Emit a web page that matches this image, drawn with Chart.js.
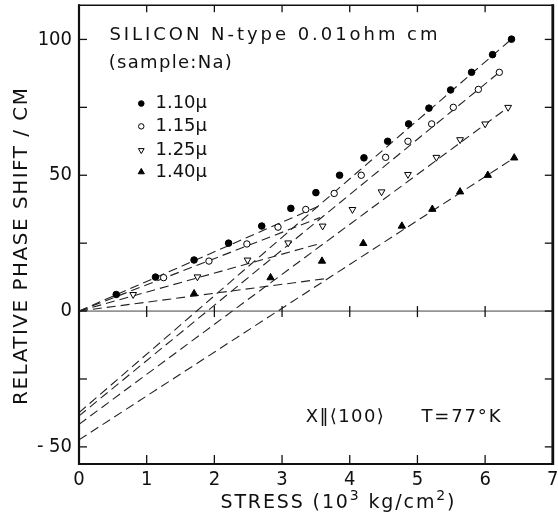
<!DOCTYPE html>
<html><head><meta charset="utf-8">
<script src="https://cdn.jsdelivr.net/npm/chart.js@4/dist/chart.umd.min.js"></script>
<style>html,body{margin:0;padding:0;background:#fff}canvas{display:block}</style>
</head><body>
<canvas id="c" width="558" height="518"></canvas>
<script>
// ---- axis ticks ----
const stressTicks = [0, 1, 2, 3, 4, 5, 6, 7];
const shiftTicks = [-50, 0, 50, 100];
const shiftTickLabels = ['- 50', '0', '50', '100'];
const shiftMinorTicks = [-25, 25, 75];

// ---- series (stress in 10^3 kg/cm^2, relative phase shift / cm) ----
const wavelengths = ['1.10', '1.15', '1.25', '1.40'];
const stress110 = [0.55, 1.13, 1.70, 2.21, 2.70, 3.13, 3.50, 3.85, 4.21, 4.56, 4.87, 5.17, 5.49, 5.80, 6.11, 6.39];
const shift110  = [6.1, 12.5, 18.8, 25.0, 31.3, 37.8, 43.6, 50.0, 56.4, 62.5, 68.9, 74.7, 81.4, 87.9, 94.4, 100.1];
const stress115 = [1.25, 1.92, 2.48, 2.94, 3.35, 3.77, 4.17, 4.53, 4.86, 5.21, 5.53, 5.90, 6.21];
const shift115  = [12.3, 18.4, 24.7, 30.9, 37.4, 43.3, 50.0, 56.6, 62.5, 68.9, 75.0, 81.6, 87.9];
const stress125 = [0.80, 1.75, 2.49, 3.09, 3.60, 4.04, 4.47, 4.86, 5.28, 5.63, 6.00, 6.34];
const shift125  = [6.1, 12.6, 18.8, 25.1, 31.3, 37.4, 43.9, 50.3, 56.6, 63.1, 68.9, 75.0];
const stress140 = [1.70, 2.83, 3.59, 4.20, 4.77, 5.22, 5.63, 6.04, 6.43];
const shift140  = [6.4, 12.3, 18.4, 24.9, 31.3, 37.5, 43.9, 50.0, 56.4];

// ---- dashed lines ----
// high-stress straight line, extended back to zero stress
const fitStartShift = [-37.4, -38.6, -41.7, -47.4];
const fitEndStress  = [6.39, 6.21, 6.34, 6.43];
const fitEndShift   = [100.1, 87.9, 75.0, 56.4];
// low-stress line from the origin to the knee
const kneeStress = [3.53, 3.56, 3.58, 3.66];
const kneeShift  = [38.5, 34.4, 25.0, 12.0];

const FONT = '"DejaVu Sans Condensed", "Liberation Sans Narrow", "DejaVu Sans", sans-serif';
const TFONT = '"DejaVu Sans", sans-serif';
const INK = '#111';

const xs_ = [stress110, stress115, stress125, stress140];
const ys_ = [shift110, shift115, shift125, shift140];
const markers = [
  {pointStyle: 'circle', radius: 3.3, rotation: 0, bg: '#000', bw: 1},
  {pointStyle: 'circle', radius: 3.2, rotation: 0, bg: '#fff', bw: 1},
  {pointStyle: 'triangle', radius: 3.9, rotation: 180, bg: '#fff', bw: 1},
  {pointStyle: 'triangle', radius: 4.2, rotation: 0, bg: '#000', bw: 1}
];

const datasets = [];
for (let i = 0; i < 4; i++) {
  datasets.push({
    label: wavelengths[i] + ' μ',
    data: xs_[i].map((x, k) => ({x, y: ys_[i][k]})),
    showLine: false,
    pointStyle: markers[i].pointStyle,
    pointRadius: markers[i].radius,
    pointRotation: markers[i].rotation,
    pointBackgroundColor: markers[i].bg,
    pointBorderColor: '#000',
    pointBorderWidth: markers[i].bw
  });
}
for (let i = 0; i < 4; i++) {
  datasets.push({
    data: [{x: 0, y: fitStartShift[i]}, {x: fitEndStress[i], y: fitEndShift[i]}],
    showLine: true, pointRadius: 0, borderColor: '#222', borderWidth: 1.1, borderDash: [9, 5]
  });
  datasets.push({
    data: [{x: 0, y: 0}, {x: kneeStress[i], y: kneeShift[i]}],
    showLine: true, pointRadius: 0, borderColor: '#222', borderWidth: 1.1, borderDash: [9, 5]
  });
}

function seg(ctx, x1, y1, x2, y2) { ctx.beginPath(); ctx.moveTo(x1, y1); ctx.lineTo(x2, y2); ctx.stroke(); }
function txt(ctx, s, x, y, size, align, spacing, fam) {
  ctx.font = size + 'px ' + (fam || TFONT);
  ctx.letterSpacing = (spacing || 0) + 'px';
  ctx.textAlign = align || 'left';
  ctx.textBaseline = 'middle';
  ctx.fillText(s, x, y);
}
// draw text starting at x with its letters spread to a given width
function spanTxt(ctx, s, x, y, size, width, fam) {
  ctx.font = size + 'px ' + (fam || TFONT);
  ctx.letterSpacing = '0px';
  const w = ctx.measureText(s).width;
  const sp = Math.max(0, (width - w) / (s.length - 1));
  txt(ctx, s, x, y, size, 'left', sp, fam);
}

const decor = {
  id: 'decor',
  beforeDatasetsDraw(chart) {
    const {ctx, chartArea: a, scales: {x: xs, y: ys}} = chart;
    ctx.save();
    const y0 = ys.getPixelForValue(0);
    ctx.strokeStyle = '#444'; ctx.lineWidth = 1;
    seg(ctx, a.left, y0, a.right, y0);
    ctx.strokeStyle = INK; ctx.lineWidth = 1.3;
    stressTicks.slice(1, -1).forEach(v => {
      const px = xs.getPixelForValue(v);
      seg(ctx, px, a.bottom, px, a.bottom - 9);
      seg(ctx, px, a.top, px, a.top + 7);
      seg(ctx, px, y0 - 5, px, y0 + 6);
    });
    shiftTicks.concat(shiftMinorTicks).forEach(v => {
      const py = ys.getPixelForValue(v);
      seg(ctx, a.left, py, a.left + 8, py);
      seg(ctx, a.right, py, a.right - 8, py);
    });
    ctx.restore();
  },
  afterDraw(chart) {
    const {ctx, chartArea: a, scales: {x: xs, y: ys}} = chart;
    ctx.save();
    // frame
    ctx.strokeStyle = INK;
    ctx.lineWidth = 2.2; seg(ctx, a.left, a.top - 1, a.left, a.bottom + 1);
    ctx.lineWidth = 2.2; seg(ctx, a.left - 1, a.bottom, a.right + 1, a.bottom);
    ctx.lineWidth = 2.8; seg(ctx, a.right, a.top - 1, a.right, a.bottom + 1);
    ctx.lineWidth = 1.6; seg(ctx, a.left - 1, a.top, a.right + 1, a.top);

    ctx.fillStyle = INK;
    // annotations
    spanTxt(ctx, 'SILICON N-type 0.01ohm cm', xs.getPixelForValue(0.45), ys.getPixelForValue(101.6), 18, 328);
    spanTxt(ctx, '(sample:Na)', xs.getPixelForValue(0.44), ys.getPixelForValue(91.2), 18, 123);
    const legY = [76.4, 68.0, 59.2, 51.2];
    for (let i = 0; i < 4; i++) {
      const px = xs.getPixelForValue(0.92), py = ys.getPixelForValue(legY[i]);
      ctx.fillStyle = markers[i].bg; ctx.strokeStyle = '#000'; ctx.lineWidth = 1;
      Chart.helpers.drawPoint(ctx, {pointStyle: markers[i].pointStyle, radius: markers[i].radius * 0.85, rotation: markers[i].rotation, borderWidth: 1}, px, py);
      ctx.fillStyle = INK;
      spanTxt(ctx, wavelengths[i] + '\u00b5', xs.getPixelForValue(1.13), py, 18, 47);
    }
    spanTxt(ctx, 'X\u2016\u27e8100\u27e9', xs.getPixelForValue(3.35), ys.getPixelForValue(-39.3), 18, 78);
    spanTxt(ctx, 'T=77\u00b0K', xs.getPixelForValue(5.06), ys.getPixelForValue(-39.3), 18, 79);

    // y title
    ctx.save();
    ctx.translate(a.left - 57, ys.getPixelForValue(23.6));
    ctx.rotate(-Math.PI / 2);
    spanTxt(ctx, 'RELATIVE PHASE SHIFT / CM', -158, 0, 20, 317);
    ctx.restore();

    // x title with superscripts
    const left = xs.getPixelForValue(2.09), cy = a.bottom + 39;
    const parts = [['STRESS (10', 19, 0], ['3', 14, -7], [' kg/cm', 19, 0], ['2', 14, -7], [')', 19, 0]];
    const target = 234;
    let natural = 0, count = 0;
    parts.forEach(p => { ctx.font = p[1] + 'px ' + TFONT; ctx.letterSpacing = '0px'; natural += ctx.measureText(p[0]).width; count += p[0].length; });
    const sp = Math.max(0, (target - natural) / (count - 1));
    let x = left;
    parts.forEach(p => {
      txt(ctx, p[0], x, cy + p[2], p[1], 'left', sp);
      ctx.font = p[1] + 'px ' + TFONT; ctx.letterSpacing = sp + 'px';
      x += ctx.measureText(p[0]).width;
    });
    ctx.restore();
  }
};

new Chart(document.getElementById('c'), {
  type: 'scatter',
  data: {datasets},
  options: {
    responsive: false, animation: false, devicePixelRatio: 1,
    layout: {padding: {top: 4, right: 3, left: 0, bottom: 0}},
    plugins: {legend: {display: false}, tooltip: {enabled: false}},
    scales: {
      x: {
        type: 'linear', min: 0, max: 7,
        grid: {display: false, drawTicks: false},
        border: {display: false},
        ticks: {color: INK, font: {family: FONT, size: 20}, padding: 4},
        afterBuildTicks: s => { s.ticks = stressTicks.map(v => ({value: v})); },
        afterFit: s => { s.height = 54; s.paddingLeft = 0; s.paddingRight = 0; }
      },
      y: {
        type: 'linear', min: -56.3, max: 112.6,
        grid: {display: false, drawTicks: false},
        border: {display: false},
        ticks: {color: INK, font: {family: FONT, size: 20}, padding: 7,
                callback: (v, i) => shiftTickLabels[i]},
        afterBuildTicks: s => { s.ticks = shiftTicks.map(v => ({value: v})); },
        afterFit: s => { s.width = 79; s.paddingTop = 0; s.paddingBottom = 0; }
      }
    }
  },
  plugins: [decor]
});
</script>
</body></html>
